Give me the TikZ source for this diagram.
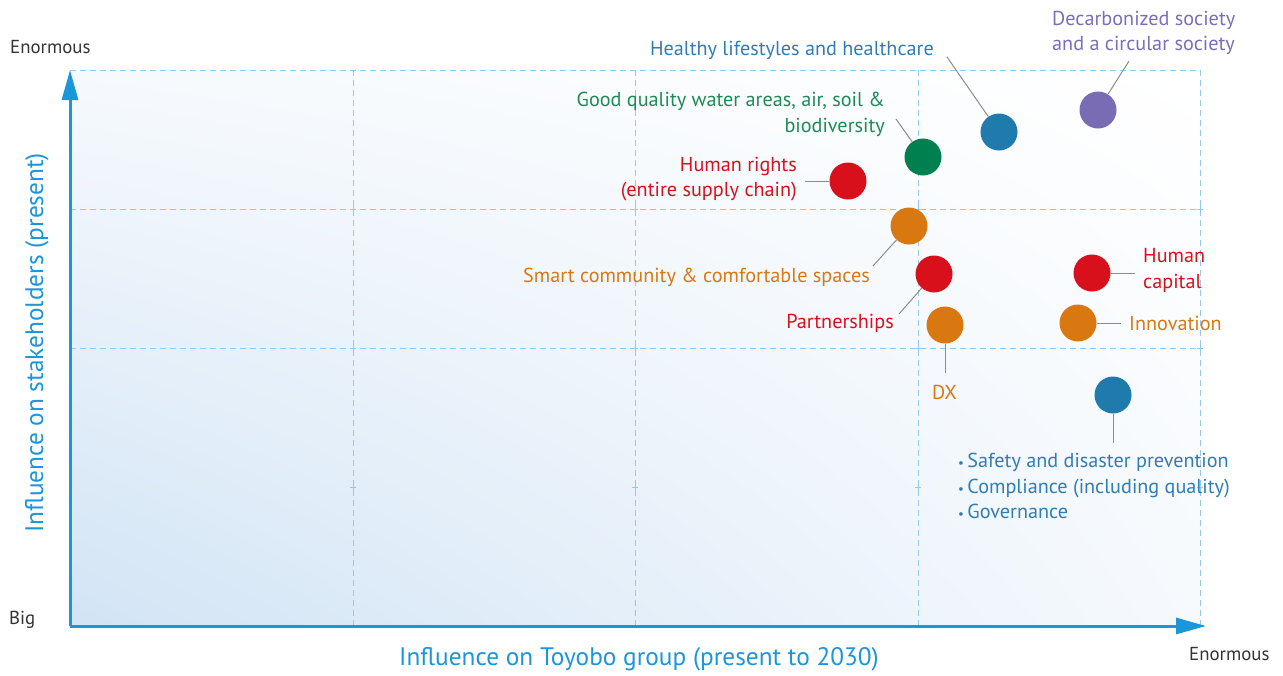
\documentclass[tikz,border=0pt]{standalone}
\usepackage{fontspec}
\setmainfont{PT Sans}
\usetikzlibrary{positioning,arrows.meta,shadings}

\definecolor{axisblue}{HTML}{1A96D9}
\definecolor{gridblue}{HTML}{93C8EF}
\definecolor{bgblue}{HTML}{D2E4F5}
\definecolor{tblue}{HTML}{2F7DB5}
\definecolor{cblue}{HTML}{1F7BAB}
\definecolor{cpurple}{HTML}{7A6BB5}
\definecolor{cgreen}{HTML}{00804E}
\definecolor{tgreen}{HTML}{1E8A55}
\definecolor{cred}{HTML}{D8101C}
\definecolor{corange}{HTML}{D97811}
\definecolor{tpurple}{HTML}{7B6DB8}
\definecolor{leadgray}{HTML}{8C8C8C}
\definecolor{tdark}{HTML}{333333}

\newcommand{\smallbullet}{{\fontsize{13}{13}\selectfont\textbullet}\,}

\tikzset{
  topic/.style={circle,fill=#1,inner sep=0pt,minimum size=37pt},
  lbl/.style={text=#1,font=\fontsize{20.2}{25.5}\selectfont,inner sep=0pt},
  leader/.style={draw=leadgray,line width=1pt},
  gridline/.style={gridblue,line width=0.9pt,dash pattern=on 6pt off 4pt},
  axisline/.style={axisblue,line width=3pt,-{Triangle[length=30pt,width=16pt]}},
  axistitle/.style={text=axisblue,font=\fontsize{25.3}{28}\selectfont,inner sep=0pt},
  endlbl/.style={text=tdark,font=\fontsize{18.8}{20}\selectfont,inner sep=0pt}
}

\begin{document}
\begin{tikzpicture}[x=1pt,y=-1pt]
\useasboundingbox (0,0) rectangle (1283,675);

% Background of the matrix
\shade[lower left=bgblue,upper left=white!80!bgblue,upper right=white,lower right=white!80!bgblue]
  (70,70) rectangle (1200,626);

% Grid
\foreach \x in {353,635,918,1200}
  \draw[gridline] (\x,70) -- (\x,626);
\foreach \y in {70,209,348}
  \draw[gridline] (70,\y) -- (1200,\y);
\foreach \x in {353,635,918,1200}
  \foreach \y in {209,348,487}
    \draw[gridblue,line width=0.8pt] (\x-3,\y) -- (\x+3,\y) (\x,\y-3) -- (\x,\y+3);

% Axes
\coordinate (O) at (70,626);
\coordinate (Ytop) at (70,70);
\coordinate (Xend) at (1206,626);
\draw[axisline] (O) -- (Ytop);
\draw[axisline] (O) -- (Xend);

\node[endlbl,anchor=west] (ytopl) at (10,47) {Enormous};
\node[endlbl,anchor=west] (ybotl) at (9,620) {Big};
\node[endlbl,anchor=west] (xendl) at (1189,654) {Enormous};
\node[axistitle] (xtitle) at (639,659) {Influence on Toyobo group (present to 2030)};
\node[axistitle,rotate=90] (ytitle) at (37,343) {Influence on stakeholders (present)};

% Topics
\foreach \n/\x/\y/\c in {dec/1098/110/cpurple, heal/999/132/cblue, good/923/157/cgreen,
    hr/848/181/cred, smart/909/226/corange, part/934/274/cred, dx/945/325/corange,
    hc/1092/273/cred, inno/1078/323/corange, safe/1113/395/cblue}
  \node[topic=\c] (\n) at (\x,\y) {};

% Free ends of the leaders
\coordinate (decE) at (1129,61);
\coordinate (healE) at (947,57);
\coordinate (goodE) at (896,119);
\coordinate (hrE) at (805,181);
\coordinate (smartE) at (873,266);
\coordinate (partE) at (899,314);
\coordinate (dxE) at (945,373);
\coordinate (hcE) at (1135,273);
\coordinate (innoE) at (1121,323);
\coordinate (safeE) at (1113,443);
\foreach \n in {dec,heal,good,hr,smart,part,dx,hc,inno,safe}
  \draw[leader] (\n) -- (\n E);

% Labels
\node[lbl=tpurple,anchor=west,align=left] (decl) at (1052,33)
  {Decarbonized society\\and a circular society};
\node[lbl=tblue,anchor=east] (heall) at (934,50) {Healthy lifestyles and healthcare};
\node[lbl=tgreen,anchor=east,align=right] (goodl) at (885,114.5)
  {Good quality water areas, air, soil \&\\biodiversity};
\node[lbl=cred,anchor=east,align=right] (hrl) at (797,179)
  {Human rights\\(entire supply chain)};
\node[lbl=corange,anchor=east] (smartl) at (870,277) {Smart community \& comfortable spaces};
\node[lbl=cred,anchor=east] (partl) at (894,323) {Partnerships};
\node[lbl=corange,anchor=west] (dxl) at (932,392) {DX};
\node[lbl=cred,anchor=west,align=left] (hcl) at (1143,270.5) {Human\\capital};
\node[lbl=corange,anchor=west] (innol) at (1129,323) {Innovation};
\node[lbl=tblue,anchor=west,align=left] (safel) at (958,486)
  {\smallbullet Safety and disaster prevention\\
   \smallbullet Compliance (including quality)\\
   \smallbullet Governance};
\end{tikzpicture}
\end{document}
